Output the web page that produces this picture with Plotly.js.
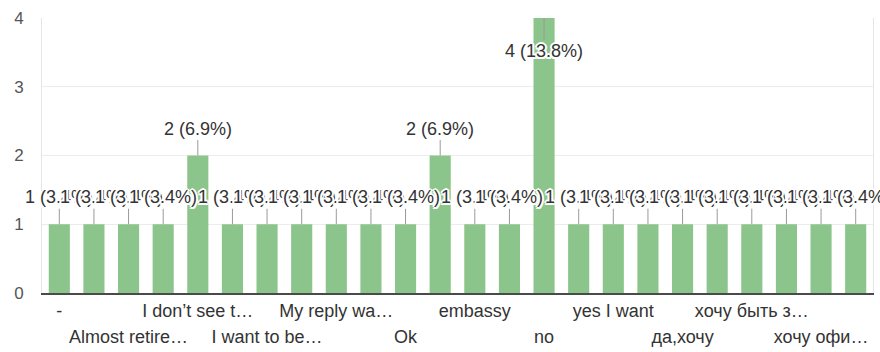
<!DOCTYPE html>
<html>
<head>
<meta charset="utf-8">
<script src="https://cdn.plot.ly/plotly-3.0.1.min.js"></script>
<style>
  html, body { margin: 0; padding: 0; background: #fff; }
  #chart { width: 880px; height: 352px; }
</style>
</head>
<body>
<div id="chart"></div>
<script>
// Responses, in the order they are listed
const categories = [
  "-", "All good", "Almost retire…", "Both", "I don't see t…", "I like it",
  "I want to be…", "Maybe", "My reply wa…", "No", "Ok", "Yes",
  "embassy", "maybe", "no", "yes", "yes I want", "Да",
  "да,хочу", "конечно", "хочу быть з…", "хочу жить…", "хочу офи…", "хочу работать…"
];

// Number of answers per response
const counts = [1, 1, 1, 1, 2, 1, 1, 1, 1, 1, 1, 2, 1, 1, 4, 1, 1, 1, 1, 1, 1, 1, 1, 1];

// Axis labels: only every other response gets a label, alternating between two rows
const tickLabels = [
  "-", "", "Almost retire…", "", "I don’t see t…", "",
  "I want to be…", "", "My reply wa…", "", "Ok", "",
  "embassy", "", "no", "", "yes I want", "",
  "да,хочу", "", "хочу быть з…", "", "хочу офи…", ""
];

const FONT = "'Liberation Sans', Arial, sans-serif";
const total = counts.reduce((a, b) => a + b, 0);
const maxCount = Math.max(...counts);
const xRange = [-0.5, categories.length - 0.5];

// Split labelled responses into the upper and lower label rows
const row1Vals = [], row1Text = [], row2Vals = [], row2Text = [];
let labelNo = 0;
tickLabels.forEach((t, i) => {
  if (!t) return;
  if (labelNo % 2 === 0) { row1Vals.push(i); row1Text.push(t); }
  else { row2Vals.push(i); row2Text.push(t); }
  labelNo++;
});

// White halo round the value labels, like a text stroke
const halo = [
  "-2px 0 #fff", "2px 0 #fff", "0 -2px #fff", "0 2px #fff",
  "-1.5px -1.5px #fff", "1.5px 1.5px #fff", "-1.5px 1.5px #fff", "1.5px -1.5px #fff"
].join(", ");

// Value labels with a short stem down to the bar top
const annotations = counts.map((v, i) => ({
  x: i,
  y: v,
  xref: "x2",
  yref: "y",
  text: v + " (" + (v / total * 100).toFixed(1) + "%)",
  showarrow: true,
  arrowhead: 0,
  arrowwidth: 1,
  arrowcolor: "#9a9a9a",
  standoff: 0,
  ax: 0,
  ay: v === maxCount ? 33 : -27,
  font: { family: FONT, size: 18, color: "#333333", shadow: halo }
}));

const bars = {
  type: "bar",
  x: categories,
  y: counts,
  marker: { color: "#8cc58c" },
  hoverinfo: "x+y"
};

// Empty trace that carries the second (lower) label row
const lowerRow = {
  type: "scatter",
  mode: "markers",
  x: [],
  y: [],
  xaxis: "x2",
  yaxis: "y",
  hoverinfo: "skip",
  showlegend: false
};

const layout = {
  width: 880,
  height: 352,
  margin: { l: 42, r: 7, t: 18, b: 59 },
  paper_bgcolor: "#ffffff",
  plot_bgcolor: "#ffffff",
  showlegend: false,
  bargap: 0.39,
  font: { family: FONT, color: "#333333" },
  xaxis: {
    type: "category",
    range: xRange,
    autorange: false,
    tickmode: "array",
    tickvals: row1Vals.map(i => categories[i]),
    ticktext: row1Text,
    ticks: "",
    tickfont: { family: FONT, size: 18, color: "#333333" },
    showgrid: false,
    showline: true,
    linecolor: "#4a4a4a",
    linewidth: 2,
    zeroline: false
  },
  xaxis2: {
    overlaying: "x",
    anchor: "y",
    side: "bottom",
    type: "linear",
    range: xRange,
    autorange: false,
    tickmode: "array",
    tickvals: row2Vals,
    ticktext: row2Text,
    ticks: "",
    ticklabelstandoff: 31,
    tickfont: { family: FONT, size: 18, color: "#333333" },
    showgrid: false,
    showline: false,
    zeroline: false
  },
  yaxis: {
    range: [0, 4],
    autorange: false,
    dtick: 1,
    ticks: "",
    ticklabelstandoff: 14,
    tickfont: { family: FONT, size: 17, color: "#555555" },
    gridcolor: "#ececec",
    gridwidth: 1,
    showline: true,
    mirror: true,
    linecolor: "#e6e6e6",
    linewidth: 1,
    zeroline: false
  },
  annotations: annotations
};

Plotly.newPlot("chart", [bars, lowerRow], layout, { displayModeBar: false, staticPlot: true });
</script>
</body>
</html>
